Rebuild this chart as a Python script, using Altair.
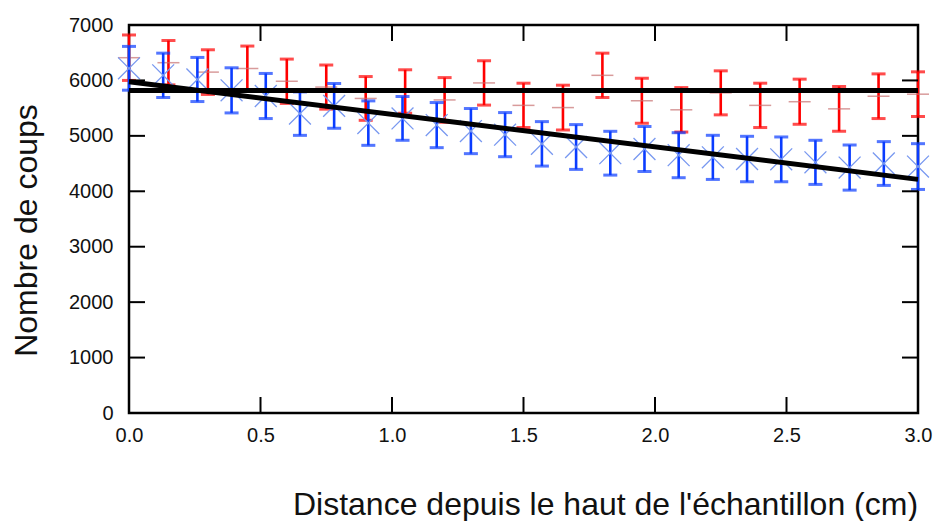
import altair as alt
import pandas as pd

# ---- data ----
red_x = [0.0, 0.15, 0.30, 0.45, 0.60, 0.75, 0.90, 1.05, 1.20, 1.35, 1.50,
         1.65, 1.80, 1.95, 2.10, 2.25, 2.40, 2.55, 2.70, 2.85, 3.00]
red_mean = [6410, 6320, 6150, 6215, 5985, 5880, 5675, 5800, 5648, 5955, 5550,
            5510, 6092, 5634, 5470, 5776, 5550, 5616, 5487, 5715, 5752]
red_err = [410, 400, 403, 405, 400, 398, 395, 392, 403, 400, 400,
           404, 400, 407, 401, 397, 400, 407, 404, 403, 403]

blue_x = [0.0, 0.13, 0.26, 0.39, 0.52, 0.65, 0.78, 0.91, 1.04, 1.17, 1.30, 1.43,
          1.57, 1.70, 1.83, 1.96, 2.09, 2.22, 2.35, 2.48, 2.61, 2.74, 2.87, 3.00]
blue_mean = [6219, 6092, 6017, 5821, 5719, 5401, 5541, 5230, 5315, 5194, 5086, 5022,
             4856, 4799, 4687, 4763, 4651, 4612, 4582, 4576, 4522, 4428, 4501, 4446]
blue_err = [395, 400, 398, 407, 407, 392, 404, 401, 395, 407, 407, 398,
            401, 404, 395, 404, 406, 398, 410, 404, 398, 407, 395, 413]

fit_x = [0.0, 3.0]
flat_fit = [5820, 5820]
slope_fit = [5975, 4215]

x_ticks = [0.5, 1.0, 1.5, 2.0, 2.5]
y_ticks = [1000, 2000, 3000, 4000, 5000, 6000]

W, H = 789, 388
TL = 16  # inward tick length

red = pd.DataFrame({"x": red_x, "m": red_mean, "e": red_err})
red["lo"] = red["m"] - red["e"]
red["hi"] = red["m"] + red["e"]
blue = pd.DataFrame({"x": blue_x, "m": blue_mean, "e": blue_err})
blue["lo"] = blue["m"] - blue["e"]
blue["hi"] = blue["m"] + blue["e"]
fits = pd.DataFrame({"x": fit_x * 2, "y": flat_fit + slope_fit,
                     "k": ["flat"] * 2 + ["slope"] * 2})
xt = pd.DataFrame({"v": x_ticks})
yt = pd.DataFrame({"v": y_ticks})

xs = alt.Scale(domain=[0, 3], nice=False, zero=False)
ys = alt.Scale(domain=[0, 7000], nice=False)

FONT = "Liberation Sans"

xax = alt.Axis(values=[0, 0.5, 1, 1.5, 2, 2.5, 3], format=".1f", ticks=False, domain=False,
               grid=False, labelFontSize=20, labelFont=FONT, labelColor="#111",
               labelPadding=12, labelFlush=False,
               title="Distance depuis le haut de l'échantillon (cm)", titleFont=FONT,
               titleFontSize=32, titleFontWeight="normal", titleColor="#111",
               titleX=476, titleY=101, titleBaseline="alphabetic", titleAlign="center")
yax = alt.Axis(values=[0, 1000, 2000, 3000, 4000, 5000, 6000, 7000], format="d",
               ticks=False, domain=False, grid=False, labelFontSize=20, labelFont=FONT,
               labelColor="#111", labelPadding=16, labelFlush=False,
               title="Nombre de coups", titleFont=FONT, titleFontSize=32,
               titleFontWeight="normal", titleColor="#111",
               titleX=-93, titleY=205, titleAngle=-90, titleBaseline="alphabetic",
               titleAlign="center")

RED = "#ff0000"
BLUE = "#0a3cff"

base_axes = alt.Chart(red).mark_point(opacity=0).encode(
    x=alt.X("x:Q", scale=xs, axis=xax), y=alt.Y("m:Q", scale=ys, axis=yax))

red_bar = alt.Chart(red).mark_rule(color=RED, strokeWidth=2.6).encode(
    x=alt.X("x:Q", scale=xs), y=alt.Y("lo:Q", scale=ys), y2="hi:Q")
red_cap_lo = alt.Chart(red).mark_tick(color=RED, orient="horizontal", size=14, thickness=3).encode(
    x=alt.X("x:Q", scale=xs), y=alt.Y("lo:Q", scale=ys))
red_cap_hi = alt.Chart(red).mark_tick(color=RED, orient="horizontal", size=14, thickness=3).encode(
    x=alt.X("x:Q", scale=xs), y=alt.Y("hi:Q", scale=ys))
red_mid = alt.Chart(red).mark_tick(color="#c87070", orient="horizontal", size=22, thickness=1.5).encode(
    x=alt.X("x:Q", scale=xs), y=alt.Y("m:Q", scale=ys))

blue_bar = alt.Chart(blue).mark_rule(color=BLUE, strokeWidth=2.6).encode(
    x=alt.X("x:Q", scale=xs), y=alt.Y("lo:Q", scale=ys), y2="hi:Q")
blue_cap_lo = alt.Chart(blue).mark_tick(color=BLUE, orient="horizontal", size=14, thickness=3).encode(
    x=alt.X("x:Q", scale=xs), y=alt.Y("lo:Q", scale=ys))
blue_cap_hi = alt.Chart(blue).mark_tick(color=BLUE, orient="horizontal", size=14, thickness=3).encode(
    x=alt.X("x:Q", scale=xs), y=alt.Y("hi:Q", scale=ys))
blue_x_mark = alt.Chart(blue).mark_point(
    shape="M-1,-1L1,1M-1,1L1,-1", size=480, filled=False, color="#7898f0",
    strokeWidth=1.3, opacity=1).encode(
    x=alt.X("x:Q", scale=xs), y=alt.Y("m:Q", scale=ys))

fit_lines = alt.Chart(fits).mark_line(color="black", strokeWidth=5).encode(
    x=alt.X("x:Q", scale=xs), y=alt.Y("y:Q", scale=ys), detail="k:N")

tick_b = alt.Chart(xt).mark_rule(color="black", strokeWidth=2).encode(
    x=alt.X("v:Q", scale=xs), y=alt.value(H), y2=alt.value(H - TL))
tick_t = alt.Chart(xt).mark_rule(color="black", strokeWidth=2).encode(
    x=alt.X("v:Q", scale=xs), y=alt.value(0), y2=alt.value(TL))
tick_l = alt.Chart(yt).mark_rule(color="black", strokeWidth=2).encode(
    y=alt.Y("v:Q", scale=ys), x=alt.value(0), x2=alt.value(TL))
tick_r = alt.Chart(yt).mark_rule(color="black", strokeWidth=2).encode(
    y=alt.Y("v:Q", scale=ys), x=alt.value(W - TL), x2=alt.value(W))

chart = alt.layer(
    base_axes, red_bar, red_cap_lo, red_cap_hi, red_mid,
    blue_bar, blue_cap_lo, blue_cap_hi, blue_x_mark,
    fit_lines, tick_b, tick_t, tick_l, tick_r
).properties(
    width=W, height=H,
    padding={"left": 129, "top": 25, "right": 15, "bottom": 108},
    autosize=alt.AutoSizeParams(type="none"),
    background="white",
).configure_view(stroke="black", strokeWidth=2.5)

chart.save("out.html", embed_options={"renderer": "svg", "actions": False})
